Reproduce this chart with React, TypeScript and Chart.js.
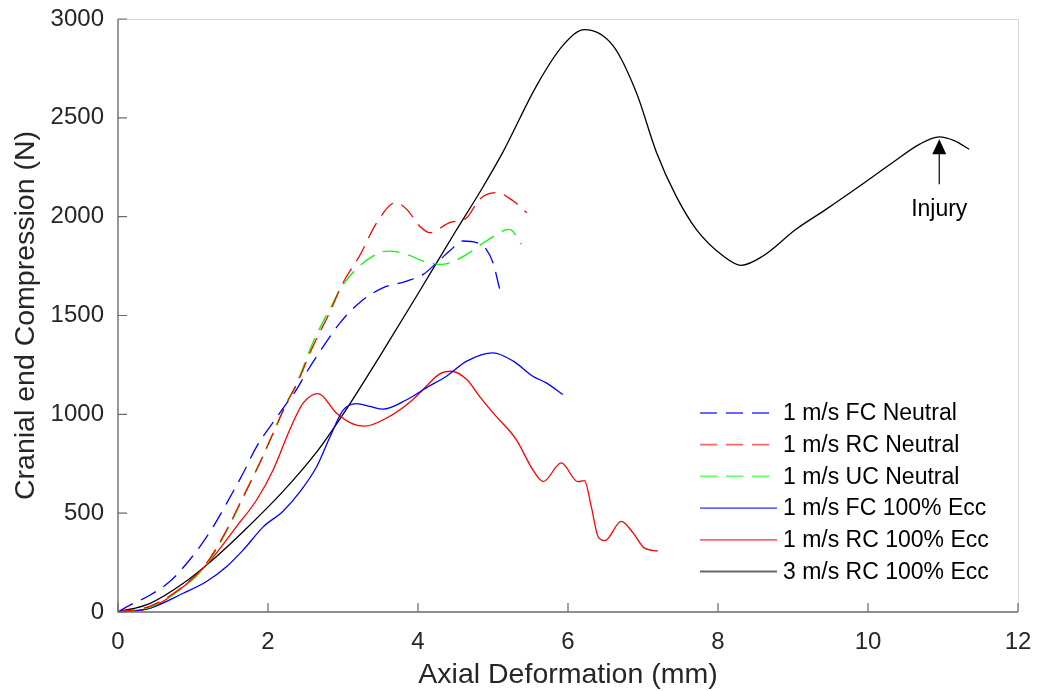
import React, { useEffect, useRef } from "react";
import { Chart, registerables } from "chart.js";

Chart.register(...registerables);

// ---------- data ----------
const fcNeutralX = [0, 0.16, 0.43, 0.69, 0.87, 1.09, 1.27, 1.45, 1.67, 1.85, 2.03, 2.2, 2.38, 2.51, 2.74, 2.96, 3.22, 3.53, 3.85, 4.07, 4.25, 4.42, 4.6, 4.78, 4.91, 5.0, 5.09];
const fcNeutralY = [0, 35, 86, 154, 225, 330, 432, 551, 703, 838, 939, 1030, 1125, 1210, 1345, 1463, 1565, 1640, 1674, 1708, 1767, 1826, 1877, 1869, 1835, 1767, 1632];

const rcNeutralX = [0, 0.43, 0.87, 1.18, 1.45, 1.67, 1.89, 2.07, 2.25, 2.38, 2.6, 2.82, 3.0, 3.22, 3.45, 3.7, 3.85, 4.02, 4.16, 4.42, 4.65, 4.82, 5.05, 5.27, 5.45];
const rcNeutralY = [0, 30, 130, 247, 416, 584, 754, 906, 1058, 1150, 1345, 1514, 1666, 1801, 1970, 2071, 2037, 1953, 1919, 1970, 1995, 2088, 2122, 2079, 2020];

const ucNeutralX = [0, 0.43, 0.87, 1.18, 1.45, 1.67, 1.89, 2.07, 2.25, 2.38, 2.6, 2.82, 3.0, 3.22, 3.49, 3.62, 3.85, 4.07, 4.29, 4.42, 4.65, 4.91, 5.22, 5.38];
const ucNeutralY = [0, 25, 125, 240, 410, 580, 754, 906, 1060, 1155, 1365, 1530, 1655, 1750, 1818, 1826, 1809, 1775, 1759, 1767, 1809, 1877, 1936, 1860];

const fcEccX = [0, 0.43, 0.87, 1.18, 1.45, 1.67, 1.94, 2.2, 2.43, 2.65, 2.82, 3.0, 3.18, 3.36, 3.53, 3.85, 4.11, 4.38, 4.65, 5.0, 5.27, 5.53, 5.71, 5.93];
const fcEccY = [0, 20, 95, 154, 230, 314, 432, 510, 610, 736, 880, 1020, 1054, 1040, 1026, 1074, 1134, 1193, 1269, 1311, 1269, 1193, 1159, 1100];

const rcEccX = [0, 0.43, 0.87, 1.09, 1.31, 1.58, 1.85, 2.07, 2.29, 2.47, 2.67, 2.91, 3.14, 3.28, 3.6, 3.93, 4.11, 4.29, 4.44, 4.65, 4.82, 5.0, 5.31, 5.53, 5.67, 5.91, 6.13, 6.22, 6.31, 6.4, 6.49, 6.71, 6.87, 7.02, 7.2];
const rcEccY = [0, 20, 128, 204, 297, 432, 568, 720, 922, 1058, 1105, 1007, 950, 940, 985, 1074, 1142, 1205, 1218, 1176, 1091, 1007, 872, 720, 660, 754, 660, 665, 534, 382, 361, 458, 399, 323, 309];

const rc3EccX = [0, 0.43, 0.87, 1.31, 1.76, 2.2, 2.65, 3.0, 3.5, 4.0, 4.5, 4.85, 5.13, 5.58, 5.93, 6.22, 6.6, 6.91, 7.18, 7.44, 7.71, 8.07, 8.31, 8.6, 9.04, 9.44, 9.89, 10.33, 10.69, 10.95, 11.15, 11.35];
const rc3EccY = [0, 44, 145, 280, 440, 610, 810, 1000, 1300, 1610, 1925, 2140, 2325, 2662, 2865, 2946, 2865, 2629, 2325, 2105, 1936, 1801, 1754, 1801, 1936, 2037, 2155, 2274, 2367, 2404, 2385, 2341];

const seriesLabels = [
  "1 m/s FC Neutral",
  "1 m/s RC Neutral",
  "1 m/s UC Neutral",
  "1 m/s FC 100% Ecc",
  "1 m/s RC 100% Ecc",
  "3 m/s RC 100% Ecc",
];

const xTickValues = [0, 2, 4, 6, 8, 10, 12];
const yTickValues = [0, 500, 1000, 1500, 2000, 2500, 3000];

const xTitle = "Axial Deformation (mm)";
const yTitle = "Cranial end Compression (N)";

const injuryLabel = "Injury";
const injuryX = 10.95;
const injuryArrowTipY = 2392;
const injuryArrowBaseY = 2164;
const injuryTextY = 2037;

// ---------- styles ----------
const FONT = "'Liberation Sans', Arial, Helvetica, sans-serif";
const AXIS_COLOR = "#6b6b6b";
const TEXT_COLOR = "#262626";
const DASH = [17, 9];

const pts = (xs: number[], ys: number[]) => xs.map((x, i) => ({ x, y: ys[i] }));

const seriesDefs = [
  { xs: fcNeutralX, ys: fcNeutralY, color: "#0000ff", dash: DASH },
  { xs: rcNeutralX, ys: rcNeutralY, color: "#ff0000", dash: DASH },
  { xs: ucNeutralX, ys: ucNeutralY, color: "#00ff00", dash: DASH },
  { xs: fcEccX, ys: fcEccY, color: "#0000ff", dash: [] as number[] },
  { xs: rcEccX, ys: rcEccY, color: "#ff0000", dash: [] as number[] },
  { xs: rc3EccX, ys: rc3EccY, color: "#000000", dash: [] as number[] },
];

const decorPlugin = {
  id: "decor",
  afterDraw(chart: any) {
    const ctx = chart.ctx;
    const { left, right, top, bottom } = chart.chartArea;
    const xs = chart.scales.x;
    const ys = chart.scales.y;
    ctx.save();
    // light frame top/right
    ctx.strokeStyle = "#d4d4d4";
    ctx.lineWidth = 1;
    ctx.beginPath();
    ctx.moveTo(left, top + 0.5);
    ctx.lineTo(right + 0.5, top + 0.5);
    ctx.lineTo(right + 0.5, bottom);
    ctx.stroke();
    // axes
    ctx.strokeStyle = AXIS_COLOR;
    ctx.lineWidth = 1.4;
    ctx.beginPath();
    ctx.moveTo(left, top);
    ctx.lineTo(left, bottom);
    ctx.lineTo(right, bottom);
    ctx.stroke();
    // inward ticks
    ctx.lineWidth = 1.2;
    ctx.beginPath();
    xTickValues.forEach((v) => {
      const px = xs.getPixelForValue(v);
      ctx.moveTo(px, bottom);
      ctx.lineTo(px, bottom - 9);
    });
    yTickValues.forEach((v) => {
      const py = ys.getPixelForValue(v);
      ctx.moveTo(left, py);
      ctx.lineTo(left + 9, py);
    });
    ctx.stroke();

    // legend
    const lx0 = 700;
    const lx1 = 777;
    const ly0 = 413;
    const lstep = 31.7;
    ctx.font = `23px ${FONT}`;
    ctx.textBaseline = "middle";
    ctx.textAlign = "left";
    chart.data.datasets.forEach((ds: any, i: number) => {
      const y = ly0 + i * lstep;
      ctx.strokeStyle = ds.borderColor;
      ctx.globalAlpha = 0.6;
      ctx.lineWidth = 1.8;
      ctx.setLineDash(ds.borderDash || []);
      ctx.beginPath();
      ctx.moveTo(lx0, y);
      ctx.lineTo(lx1, y);
      ctx.stroke();
      ctx.setLineDash([]);
      ctx.globalAlpha = 1;
      ctx.fillStyle = "#000";
      ctx.fillText(ds.label, 783, y + 1);
    });

    // injury annotation
    const ax = xs.getPixelForValue(injuryX);
    const tipY = ys.getPixelForValue(injuryArrowTipY);
    const baseY = ys.getPixelForValue(injuryArrowBaseY);
    ctx.strokeStyle = "#000";
    ctx.fillStyle = "#000";
    ctx.lineWidth = 1.2;
    ctx.beginPath();
    ctx.moveTo(ax, baseY);
    ctx.lineTo(ax, tipY + 10);
    ctx.stroke();
    ctx.beginPath();
    ctx.moveTo(ax, tipY);
    ctx.lineTo(ax - 7, tipY + 15);
    ctx.lineTo(ax + 7, tipY + 15);
    ctx.closePath();
    ctx.fill();
    ctx.textAlign = "center";
    ctx.font = `23px ${FONT}`;
    ctx.fillText(injuryLabel, ax, ys.getPixelForValue(injuryTextY));
    ctx.restore();
  },
};

export default function App() {
  const ref = useRef<HTMLCanvasElement | null>(null);
  useEffect(() => {
    if (!ref.current) return;
    Chart.defaults.font.family = FONT;
    const chart = new Chart(ref.current, {
      type: "line",
      data: {
        datasets: seriesDefs.map((s, i) => ({
          label: seriesLabels[i],
          data: pts(s.xs, s.ys),
          borderColor: s.color,
          backgroundColor: s.color,
          borderDash: s.dash,
          borderWidth: 1.3,
          pointRadius: 0,
          fill: false,
          cubicInterpolationMode: "monotone",
        })),
      },
      options: {
        animation: false,
        responsive: false,
        devicePixelRatio: 1,
        layout: { padding: { top: 19, right: 22, left: 0, bottom: 0 } },
        plugins: { legend: { display: false }, tooltip: { enabled: false } },
        scales: {
          x: {
            type: "linear",
            min: 0,
            max: 12,
            afterBuildTicks: (scale: any) => {
              scale.ticks = xTickValues.map((v) => ({ value: v }));
            },
            afterFit: (scale: any) => {
              scale.height = 79;
              scale.paddingLeft = 0;
              scale.paddingRight = 0;
            },
            grid: { display: false, drawTicks: false },
            border: { display: false },
            ticks: {
              color: TEXT_COLOR,
              font: { size: 24 },
              padding: 16,
              maxRotation: 0,
              callback: (v: any) => String(v),
            },
            title: {
              display: true,
              text: xTitle,
              color: TEXT_COLOR,
              font: { size: 28.5, lineHeight: 1 },
              padding: { top: 0, bottom: 2 },
            },
          },
          y: {
            type: "linear",
            min: 0,
            max: 3000,
            afterBuildTicks: (scale: any) => {
              scale.ticks = yTickValues.map((v) => ({ value: v }));
            },
            afterFit: (scale: any) => {
              scale.width = 118;
              scale.paddingTop = 0;
              scale.paddingBottom = 0;
            },
            grid: { display: false, drawTicks: false },
            border: { display: false },
            ticks: {
              color: TEXT_COLOR,
              font: { size: 24 },
              padding: 14,
              callback: (v: any) => String(v),
            },
            title: {
              display: true,
              text: yTitle,
              color: TEXT_COLOR,
              font: { size: 28.5, lineHeight: 1 },
              padding: { top: 12, bottom: 0 },
            },
          },
        },
      },
      plugins: [decorPlugin],
    } as any);
    return () => chart.destroy();
  }, []);
  return (
    <div style={{ position: "absolute", left: 0, top: 0, width: 1040, height: 691, background: "#fff" }}>
      <canvas ref={ref} width={1040} height={691} style={{ display: "block" }} />
    </div>
  );
}
